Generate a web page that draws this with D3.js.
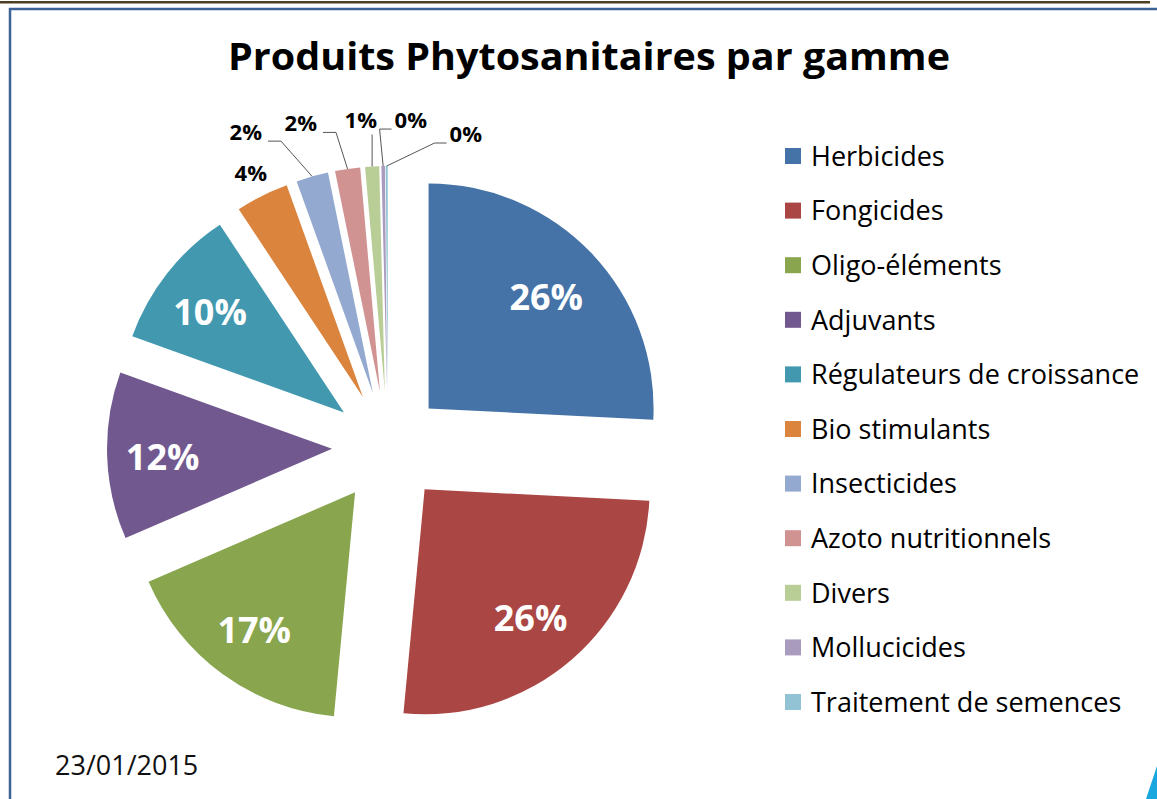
<!DOCTYPE html>
<html>
<head>
  <meta charset="utf-8">
  <title>Produits Phytosanitaires par gamme</title>
  <script src="https://d3js.org/d3.v7.min.js"></script>
  <style>
    body { margin: 0; background: #fff; }
    svg { display: block; font-family: "Open Sans", sans-serif; }
  </style>
</head>
<body>
  <svg id="chart"></svg>
  <script>
    // Data
    const categories = ["Herbicides", "Fongicides", "Oligo-éléments", "Adjuvants",
      "Régulateurs de croissance", "Bio stimulants", "Insecticides", "Azoto nutritionnels",
      "Divers", "Mollucicides", "Traitement de semences"];
    const shares = [25.8, 25.7, 17.0, 12.0, 10.2, 3.8, 2.3, 1.8, 1.0, 0.25, 0.15];
    const colors = ["#4572A7", "#AA4643", "#89A54E", "#71588F", "#4198AF", "#DB843D",
      "#93A9CF", "#D19392", "#B9CD96", "#A99BBD", "#92C3D5"];
    const titleText = "Produits Phytosanitaires par gamme";
    const dateText = "23/01/2015";

    const width = 1157, height = 799;
    const cx = 388, cy = 447, radius = 225, explode = 56;

    const svg = d3.select("#chart").attr("width", width).attr("height", height);

    // frame lines
    svg.append("rect").attr("x", 0).attr("y", 1).attr("width", 1150).attr("height", 2.5)
      .attr("fill", "#4e3e25");
    svg.append("line").attr("x1", 9).attr("x2", width).attr("y1", 9).attr("y2", 9)
      .attr("stroke", "#3c6394").attr("stroke-width", 2.5);
    svg.append("line").attr("x1", 10).attr("x2", 10).attr("y1", 8).attr("y2", height)
      .attr("stroke", "#3c6394").attr("stroke-width", 2.5);
    svg.append("polygon").attr("points", "1146,799 1157,766 1157,799").attr("fill", "#1aa7e0");

    // title
    svg.append("text").attr("x", 589).attr("y", 70).attr("text-anchor", "middle")
      .attr("font-size", 37).attr("font-weight", "bold").attr("fill", "#000")
      .attr("textLength", 722).attr("lengthAdjust", "spacingAndGlyphs")
      .text(titleText);

    const data = categories.map((c, i) => ({ name: c, value: shares[i], color: colors[i] }));
    const pie = d3.pie().value(d => d.value).sort(null);
    const arcs = pie(data);
    const arc = d3.arc().innerRadius(0).outerRadius(radius);

    const mid = a => (a.startAngle + a.endAngle) / 2;
    const dir = a => [Math.sin(mid(a)), -Math.cos(mid(a))];
    const apex = a => { const v = dir(a); return [cx + v[0] * explode, cy + v[1] * explode]; };
    const along = (a, dist) => { const p = apex(a), v = dir(a); return [p[0] + v[0] * dist, p[1] + v[1] * dist]; };

    const g = svg.append("g");
    g.selectAll("path").data(arcs).enter().append("path")
      .attr("d", arc)
      .attr("transform", d => `translate(${apex(d)})`)
      .attr("fill", d => d.data.color);

    const pct = d => Math.round(d.data.value) + "%";

    // inner labels for big slices
    arcs.filter(d => d.data.value >= 5).forEach(d => {
      const p = along(d, radius * 0.74);
      svg.append("text").attr("x", p[0] - 3).attr("y", p[1] + 3).attr("dy", "0.36em")
        .attr("text-anchor", "middle").attr("font-size", 36).attr("font-weight", "bold")
        .attr("fill", "#fff").text(pct(d));
    });

    // medium slices: label just outside
    arcs.filter(d => d.data.value >= 3 && d.data.value < 5).forEach(d => {
      const p = along(d, radius + 25);
      svg.append("text").attr("x", p[0]).attr("y", p[1]).attr("dy", "0.36em")
        .attr("text-anchor", "middle").attr("font-size", 22).attr("font-weight", "bold")
        .attr("fill", "#000").text(pct(d));
    });

    // tiny slices: spread labels in a row with leader lines
    const tiny = arcs.filter(d => d.data.value < 3);
    const natural = tiny.map(d => along(d, radius + 46));
    const meanX = d3.mean(natural, p => p[0]);
    const gap = 55;
    tiny.forEach((d, i) => {
      const lx = meanX + (i - (tiny.length - 1) / 2) * gap + (i === 2 ? 5 : 0);
      const ly = natural[i][1] + (i === tiny.length - 1 ? 14 : 0);
      const t = svg.append("text").attr("x", lx).attr("y", ly).attr("dy", "0.36em")
        .attr("text-anchor", "middle").attr("font-size", 22).attr("font-weight", "bold")
        .attr("fill", "#000").text(pct(d));
      const half = t.node().getComputedTextLength() / 2;
      const outer = along(d, radius);
      const base = ly + 9;
      let pts;
      if (Math.abs(lx - outer[0]) < 25) {
        pts = [[outer[0], ly + 14], outer];
      } else if (lx < outer[0]) {
        pts = [[lx + half + 6, base], [lx + half + 19, base], outer];
      } else {
        pts = [[lx - half - 3, base], [lx - half - 15, base], outer];
      }
      svg.append("path").attr("d", d3.line()(pts)).attr("fill", "none")
        .attr("stroke", "#555").attr("stroke-width", 1);
    });

    // legend
    const ly = d3.scalePoint().domain(categories).range([156, 702]);
    const leg = svg.append("g").selectAll("g").data(data).enter().append("g")
      .attr("transform", d => `translate(785,${ly(d.name)})`);
    leg.append("rect").attr("x", 0).attr("y", -8).attr("width", 16).attr("height", 16)
      .attr("fill", d => d.color);
    leg.append("text").attr("x", 26).attr("y", 0).attr("dy", "0.36em")
      .attr("font-size", 27).attr("fill", "#000").text(d => d.name);

    // date
    svg.append("text").attr("x", 55).attr("y", 775).attr("font-size", 27)
      .attr("fill", "#111").text(dateText);
  </script>
</body>
</html>
